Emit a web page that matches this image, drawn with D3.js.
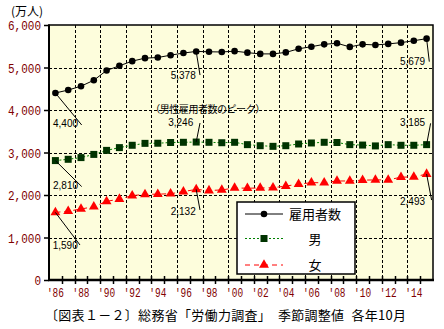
<!DOCTYPE html>
<html>
<head>
<meta charset="utf-8">
<script src="https://cdn.jsdelivr.net/npm/d3@7"></script>
<style>
  html, body { margin: 0; padding: 0; background: #fff; }
  svg { display: block; }
</style>
</head>
<body>
<svg id="chart" width="444" height="329"></svg>
<script>
// 雇用者数の推移（季節調整値・各年10月、単位：万人）
const years = [1986, 1987, 1988, 1989, 1990, 1991, 1992, 1993, 1994, 1995,
               1996, 1997, 1998, 1999, 2000, 2001, 2002, 2003, 2004, 2005,
               2006, 2007, 2008, 2009, 2010, 2011, 2012, 2013, 2014, 2015];
const total = [4400, 4470, 4560, 4700, 4930, 5040, 5150, 5220, 5235, 5290,
               5340, 5378, 5370, 5365, 5385, 5350, 5320, 5320, 5355, 5440,
               5490, 5545, 5570, 5485, 5545, 5530, 5555, 5585, 5630, 5679];
const men   = [2810, 2840, 2880, 2955, 3050, 3115, 3170, 3215, 3218, 3235,
               3240, 3246, 3240, 3230, 3240, 3185, 3160, 3145, 3160, 3200,
               3224, 3240, 3235, 3185, 3175, 3155, 3185, 3170, 3170, 3185];
const women = [1590, 1620, 1670, 1725, 1850, 1905, 1985, 2015, 2020, 2030,
               2080, 2132, 2105, 2120, 2165, 2160, 2165, 2172, 2210, 2255,
               2290, 2290, 2330, 2330, 2350, 2355, 2355, 2420, 2425, 2493];
const yTicks = [0, 1000, 2000, 3000, 4000, 5000, 6000];
const xTickYears  = [1986, 1988, 1990, 1992, 1994, 1996, 1998, 2000, 2002, 2004, 2006, 2008, 2010, 2012, 2014];
const xTickLabels = ["'86", "'88", "'90", "'92", "'94", "'96", "'98", "'00", "'02", "'04", "'06", "'08", "'10", "'12", "'14"];
const seriesNames = ["雇用者数", "男", "女"];

const svg = d3.select("#chart");
const plotL = 49, plotR = 433, plotT = 25, plotB = 280;

const x = d3.scaleBand().domain(years).range([plotL, plotR]).padding(0);
const y = d3.scaleLinear().domain([0, 6000]).range([plotB, plotT]);
const cx = yr => x(yr) + x.bandwidth() / 2;

const axisColor = "#800000";
const tickFont = "'Liberation Mono', 'DejaVu Sans Mono', monospace";
const cjkFont = "'Noto Sans CJK JP', 'Noto Sans', sans-serif";
const numFont = "'Liberation Sans', Arial, sans-serif";

// plot background
svg.append("rect")
  .attr("x", plotL).attr("y", plotT)
  .attr("width", plotR - plotL).attr("height", plotB - plotT)
  .attr("fill", "#fdfddc");

// horizontal grid
svg.append("g").selectAll("line")
  .data(yTicks.filter(d => d > 0 && d < 6000))
  .join("line")
  .attr("x1", plotL).attr("x2", plotR)
  .attr("y1", d => Math.round(y(d)) + 0.5).attr("y2", d => Math.round(y(d)) + 0.5)
  .attr("stroke", "#000").attr("stroke-width", 1).attr("stroke-dasharray", "3,2");

// vertical grid at band boundaries every two years
svg.append("g").selectAll("line")
  .data(xTickYears.slice(1))
  .join("line")
  .attr("x1", d => Math.round(x(d)) + 0.5).attr("x2", d => Math.round(x(d)) + 0.5)
  .attr("y1", plotT).attr("y2", plotB)
  .attr("stroke", "#000").attr("stroke-width", 1).attr("stroke-dasharray", "3,2");

// frame
svg.append("rect")
  .attr("x", plotL).attr("y", plotT)
  .attr("width", plotR - plotL).attr("height", plotB - plotT)
  .attr("fill", "none").attr("stroke", "#000").attr("stroke-width", 1.5);
svg.append("line").attr("x1", plotL).attr("x2", plotL).attr("y1", plotT - 0.5).attr("y2", plotB)
  .attr("stroke", "#000").attr("stroke-width", 2);
svg.append("line").attr("x1", plotL - 1).attr("x2", plotR + 1).attr("y1", plotB).attr("y2", plotB)
  .attr("stroke", "#000").attr("stroke-width", 2.5);

// y axis ticks and labels (monospace, 6.6px per character)
const yFmt = d3.format(",");
const yAxis = d3.axisLeft(y).tickValues(yTicks).tickSize(5).tickFormat(yFmt);
const gy = svg.append("g").attr("transform", `translate(${plotL},0)`).call(yAxis);
gy.select(".domain").remove();
gy.selectAll(".tick line").attr("stroke", "#000").attr("stroke-width", 1.5);
gy.selectAll(".tick text")
  .attr("x", -8).attr("dy", "0.36em")
  .attr("fill", axisColor)
  .style("font-family", tickFont).style("font-size", "13px")
  .attr("textLength", d => yFmt(d).length * 6.6).attr("lengthAdjust", "spacingAndGlyphs");

// x axis: ticks at every band boundary
svg.append("g").selectAll("line")
  .data(years.slice(1))
  .join("line")
  .attr("x1", d => Math.round(x(d)) + 0.5).attr("x2", d => Math.round(x(d)) + 0.5)
  .attr("y1", plotB - 4).attr("y2", plotB + 4)
  .attr("stroke", "#000").attr("stroke-width", 1.5);

svg.append("g").selectAll("text")
  .data(xTickYears)
  .join("text")
  .attr("x", d => cx(d)).attr("y", 297)
  .attr("text-anchor", "middle")
  .attr("fill", axisColor)
  .style("font-family", tickFont).style("font-size", "13px")
  .attr("textLength", 17).attr("lengthAdjust", "spacingAndGlyphs")
  .text((d, i) => xTickLabels[i]);

// unit label
svg.append("text").attr("x", 11).attr("y", 16)
  .style("font-family", cjkFont).style("font-size", "12px")
  .text("(万人)");

// series
const series = [
  { name: seriesNames[0], values: total, line: "#000", dash: null, symbol: d3.symbolCircle, size: 34, fill: "#000" },
  { name: seriesNames[1], values: men, line: "#008000", dash: "2,2", symbol: d3.symbolSquare, size: 49, fill: "#003300" },
  { name: seriesNames[2], values: women, line: "#ff0000", dash: "5,4", symbol: d3.symbolTriangle, size: 42, fill: "#ff0000" }
];

const lineGen = d3.line().x((d, i) => cx(years[i])).y(d => y(d));

series.forEach(s => {
  svg.append("path")
    .attr("d", lineGen(s.values))
    .attr("fill", "none")
    .attr("stroke", s.line).attr("stroke-width", 1)
    .attr("stroke-dasharray", s.dash);
  svg.append("g").selectAll("path")
    .data(s.values)
    .join("path")
    .attr("transform", (d, i) => `translate(${cx(years[i])},${y(d)})`)
    .attr("d", d3.symbol().type(s.symbol).size(s.size))
    .attr("fill", s.fill);
});

// value annotations with leader lines
const notes = [
  { s: total, yr: 1986, tx: -2.4, ty: 34,   lx: 26.3, ly: 32 },
  { s: men,   yr: 1986, tx: -2.4, ty: 28.4, lx: 26.3, ly: 26 },
  { s: women, yr: 1986, tx: -2.7, ty: 36.6, lx: 24.6, ly: 32.6 },
  { s: total, yr: 1997, tx: -25.5, ty: 27.6, lx: 3.8, ly: 23.6 },
  { s: men,   yr: 1997, tx: -28,  ty: -16.5, lx: 3.8, ly: -19 },
  { s: women, yr: 1997, tx: -25.5, ty: 25.6, lx: 3.8, ly: 20.6 },
  { s: total, yr: 2015, tx: -26.6, ty: 26.4, lx: 2.7, ly: 23 },
  { s: men,   yr: 2015, tx: -26.6, ty: -19,  lx: 4,   ly: -21.3 },
  { s: women, yr: 2015, tx: -26.6, ty: 31,   lx: 5,   ly: 26 }
];
const fmt = d3.format(",");
notes.forEach(n => {
  const v = n.s[years.indexOf(n.yr)];
  const px = cx(n.yr), py = y(v);
  svg.append("line")
    .attr("x1", px).attr("y1", py)
    .attr("x2", px + n.lx).attr("y2", py + n.ly)
    .attr("stroke", "#000").attr("stroke-width", 1);
  svg.append("text")
    .attr("x", px + n.tx).attr("y", py + n.ty)
    .style("font-family", numFont).style("font-size", "10px")
    .text(fmt(v));
});

// peak note for men
{
  const v = men[years.indexOf(1997)];
  svg.append("text")
    .attr("x", cx(1997) - 46).attr("y", y(v) - 29.5)
    .style("font-family", cjkFont).style("font-size", "10px")
    .attr("textLength", 115).attr("lengthAdjust", "spacing")
    .text("（男性雇用者数のピーク）");
}

// legend
const lg = svg.append("g");
lg.append("rect")
  .attr("x", 237).attr("y", 202).attr("width", 118).attr("height", 72)
  .attr("fill", "#fff").attr("stroke", "#000").attr("stroke-width", 1.5);
const rowY = [214, 238.5, 265];
series.forEach((s, i) => {
  lg.append("line")
    .attr("x1", 245).attr("x2", 283).attr("y1", rowY[i]).attr("y2", rowY[i])
    .attr("stroke", s.line).attr("stroke-width", 1).attr("stroke-dasharray", s.dash);
  lg.append("path")
    .attr("transform", `translate(264,${rowY[i]})`)
    .attr("d", d3.symbol().type(s.symbol).size(s.size))
    .attr("fill", s.fill);
  lg.append("text")
    .attr("x", 315).attr("y", rowY[i] + 5)
    .attr("text-anchor", "middle")
    .style("font-family", cjkFont).style("font-size", "13px")
    .text(s.name);
});

// source line
const cap = svg.append("text").attr("x", 45).attr("y", 320)
  .style("font-family", cjkFont).style("font-size", "13px")
  .style("letter-spacing", "0.3px");
cap.append("tspan").text("〔図表１－２〕総務省「労働力調査」　季節調整値");
cap.append("tspan").attr("dx", 7).text("各年10月");
</script>
</body>
</html>
